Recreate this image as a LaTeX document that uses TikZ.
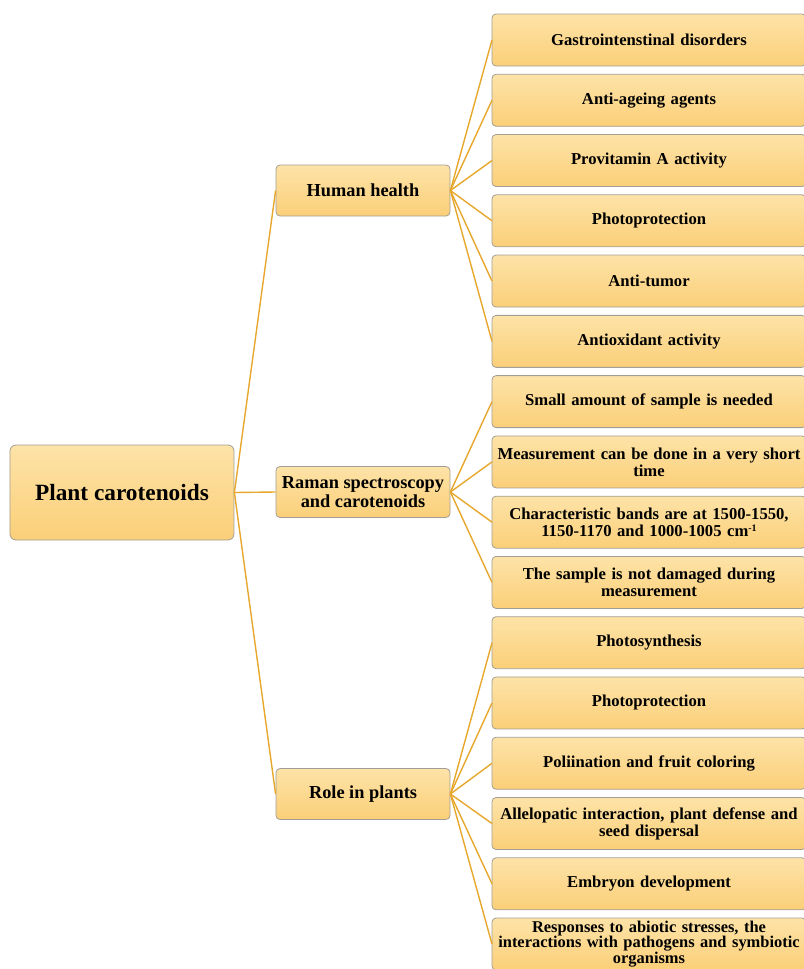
\documentclass[tikz,border=0pt]{standalone}
\usepackage{fontspec}
\setmainfont{Liberation Serif}
\usetikzlibrary{positioning}
\definecolor{boxtop}{HTML}{FDE3A8}
\definecolor{boxbot}{HTML}{FBCF78}
\definecolor{boxline}{HTML}{A39E95}
\definecolor{linkcol}{HTML}{E6A72C}
\def\leafwid{314bp}
\def\leafhgt{52bp}
\def\leafgap{8.27bp}

\begin{document}
\begin{tikzpicture}[x=1bp, y=-1bp,
            rootbox/.style={%
                rectangle, rounded corners=6bp, draw=boxline, line width=0.8bp,%
                top color=boxtop, bottom color=boxbot,%
                minimum width=224bp, minimum height=95bp,%
                align=center, font=\fontsize{23.4}{26}\selectfont\bfseries%
            },
            midbox/.style={%
                rectangle, rounded corners=4bp, draw=boxline, line width=0.8bp,%
                top color=boxtop, bottom color=boxbot,%
                minimum width=174bp, minimum height=51bp, inner sep=1bp,%
                align=center, font=\fontsize{18.4}{19}\selectfont\bfseries%
            },
            leafbox/.style={%
                rectangle, rounded corners=4bp, draw=boxline, line width=0.8bp,%
                top color=boxtop, bottom color=boxbot, outer sep=0pt,%
                minimum width=\leafwid, minimum height=\leafhgt, inner sep=1bp,%
                text width=312bp, align=center,%
                font=\fontsize{16.7}{17}\selectfont\bfseries%
            },
            link/.style={draw=linkcol, line width=1.4bp}
        ]

        \useasboundingbox (0,0) rectangle (804,969);

        % Main nodes
        \node (root) [rootbox] at (122,492.5) {Plant carotenoids};

        \node (health) [midbox] at (363,190.5) {Human health};
        \node (raman) [midbox] at (363,492) {%
            Raman spectroscopy\\and carotenoids%
        };
        \node (plants) [midbox] at (363,794) {Role in plants};

        % Human health
        \node (gastro) [leafbox] at (649,40) {Gastrointenstinal disorders};
        \node (ageing) [leafbox, below=\leafgap of gastro] {Anti-ageing agents};
        \node (provit) [leafbox, below=\leafgap of ageing] {Provitamin A activity};
        \node (photoA) [leafbox, below=\leafgap of provit] {Photoprotection};
        \node (tumor) [leafbox, below=\leafgap of photoA] {Anti-tumor};
        \node (antiox) [leafbox, below=\leafgap of tumor] {Antioxidant activity};

        % Raman spectroscopy
        \node (sample) [leafbox, below=\leafgap of antiox] {%
            Small amount of sample is needed%
        };
        \node (short) [leafbox, below=\leafgap of sample] {%
            Measurement can be done in a very short\\time%
        };
        \node (bands) [leafbox, below=\leafgap of short] {%
            Characteristic bands are at 1500-1550,\\
            1150-1170 and 1000-1005 cm\raisebox{0.3em}{\fontsize{10}{10}\selectfont -1}%
        };
        \node (damage) [leafbox, below=\leafgap of bands] {%
            The sample is not damaged during\\measurement%
        };

        % Role in plants
        \node (synth) [leafbox, below=\leafgap of damage] {Photosynthesis};
        \node (photoB) [leafbox, below=\leafgap of synth] {Photoprotection};
        \node (pollin) [leafbox, below=\leafgap of photoB] {%
            Poliination and fruit coloring%
        };
        \node (allelo) [leafbox, below=\leafgap of pollin] {%
            Allelopatic interaction, plant defense and\\seed dispersal%
        };
        \node (embryo) [leafbox, below=\leafgap of allelo] {Embryon development};
        \node (stress) [leafbox, below=\leafgap of embryo,
                font=\fontsize{16.5}{15}\selectfont\bfseries] {%
            Responses to abiotic stresses, the\\
            interactions with pathogens and symbiotic\\
            organisms%
        };

        % Connectors
        \draw [link] (root.east) -- (health.west);
        \draw [link] (root.east) -- (raman.west);
        \draw [link] (root.east) -- (plants.west);

        \draw [link] (health.east) -- (gastro.west);
        \draw [link] (health.east) -- (ageing.west);
        \draw [link] (health.east) -- (provit.west);
        \draw [link] (health.east) -- (photoA.west);
        \draw [link] (health.east) -- (tumor.west);
        \draw [link] (health.east) -- (antiox.west);

        \draw [link] (raman.east) -- (sample.west);
        \draw [link] (raman.east) -- (short.west);
        \draw [link] (raman.east) -- (bands.west);
        \draw [link] (raman.east) -- (damage.west);

        \draw [link] (plants.east) -- (synth.west);
        \draw [link] (plants.east) -- (photoB.west);
        \draw [link] (plants.east) -- (pollin.west);
        \draw [link] (plants.east) -- (allelo.west);
        \draw [link] (plants.east) -- (embryo.west);
        \draw [link] (plants.east) -- (stress.west);

\end{tikzpicture}
\end{document}
